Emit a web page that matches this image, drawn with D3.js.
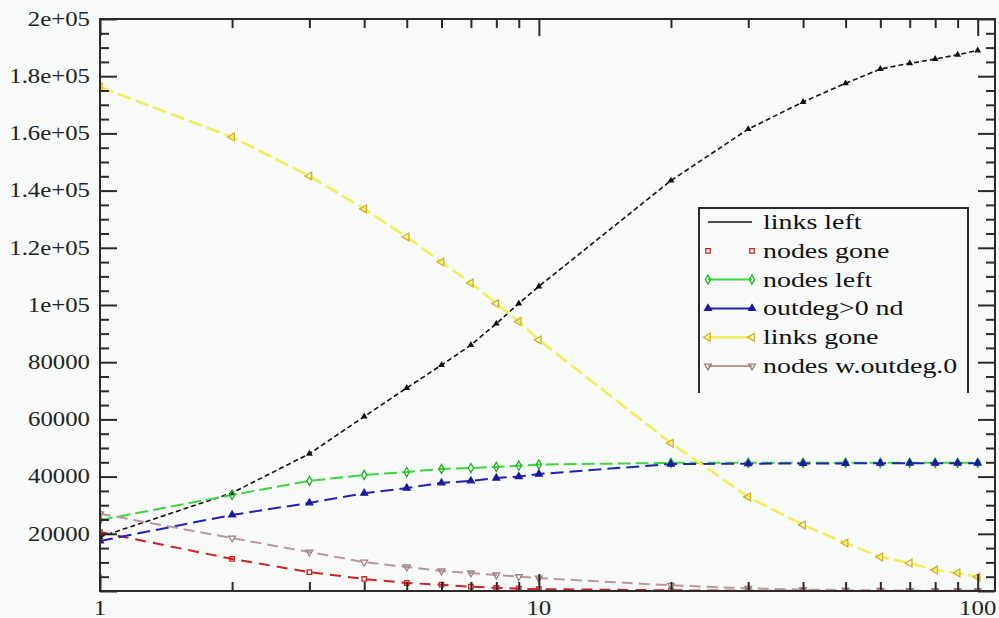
<!DOCTYPE html>
<html><head><meta charset="utf-8">
<script src="https://cdn.jsdelivr.net/npm/d3@7"></script>
<style>html,body{margin:0;padding:0;background:#f7faf8;}svg{display:block;}</style>
</head><body>
<svg id="chart" width="999" height="618"></svg>
<script>
// ---- data ----
const xs = [1,2,3,4,5,6,7,8,9,10,20,30,40,50,60,70,80,90,100];
const linksLeft  = [18900,34300,48000,61000,71000,79000,86000,93500,100500,106500,143500,161500,171000,177500,182500,184500,186000,187500,189000];
const nodesGone  = [20600,11200,6600,4200,2800,2200,1500,1100,800,650,250,100,50,30,20,10,10,5,5];
const nodesLeft  = [24800,33600,38500,40600,41600,42700,43000,43400,43800,44200,44800,44800,44800,44800,44800,44800,44800,44800,44800];
const outdegNd   = [17500,26600,30800,34200,36000,37800,38500,39500,40000,40900,44400,44500,44600,44600,44700,44700,44700,44700,44700];
const linksGone  = [176200,158700,145100,133600,123800,115000,107700,100500,94200,87800,51700,32900,23100,16800,11900,9800,7300,6300,4900];
const nodesW0    = [27000,18500,13600,10100,8400,7000,6300,5600,5000,4500,2000,900,500,300,200,150,100,80,60];
const seriesNames = ["links left","nodes gone","nodes left","outdeg>0 nd","links gone","nodes w.outdeg.0"];
const yTickValues = [20000,40000,60000,80000,100000,120000,140000,160000,180000,200000];
const yTickLabels = ["20000","40000","60000","80000","1e+05","1.2e+05","1.4e+05","1.6e+05","1.8e+05","2e+05"];
const xTickValues = [1,10,100];
const xTickLabels = ["1","10","100"];

const series = [
  {name:seriesNames[0], vals:linksLeft, line:"#111", mark:"#111", dash:"5,3", w:1.6, sym:d3.symbolTriangle, fill:true, size:9},
  {name:seriesNames[1], vals:nodesGone, line:"#cc2222", mark:"#cc2222", dash:"11,7", w:2, sym:d3.symbolSquare, fill:false, size:20},
  {name:seriesNames[2], vals:nodesLeft, line:"#3dd63d", mark:"#22b022", dash:"13,5", w:2, sym:d3.symbolDiamond, fill:false, size:24},
  {name:seriesNames[3], vals:outdegNd, line:"#2222b0", mark:"#1a1aa0", dash:"13,6", w:2, sym:d3.symbolTriangle, fill:true, size:20},
  {name:seriesNames[4], vals:linksGone, line:"#f2ee5a", mark:"#d4b020", dash:"14,5", w:2.6, sym:"tl", fill:false, size:26},
  {name:seriesNames[5], vals:nodesW0, line:"#b89898", mark:"#a08080", dash:"11,6", w:2, sym:"td", fill:false, size:20}
];

const W = 999, H = 618;
const L = 100, R = 995, T = 19, B = 591;
const x = d3.scaleLog().domain([1, 109.5]).range([L, R]);
const y = d3.scaleLinear().domain([0, 200000]).range([B, T]);

const svg = d3.select("#chart");
svg.append("rect").attr("width", W).attr("height", H).attr("fill", "#f7faf8");

svg.append("defs").append("clipPath").attr("id","clip")
  .append("rect").attr("x", L).attr("y", T).attr("width", R-L).attr("height", B-T);

const plot = svg.append("g").attr("clip-path","url(#clip)");

function symPath(s, size){
  if (s === "tl" || s === "td") return d3.symbol(d3.symbolTriangle, size)();
  return d3.symbol(s, size)();
}
function symRot(s){ return s === "tl" ? -90 : (s === "td" ? 180 : 0); }

const line = d3.line().x((d,i)=>x(xs[i])).y(d=>y(d));
series.forEach(s=>{
  plot.append("path").attr("d", line(s.vals)).attr("fill","none")
    .attr("stroke", s.line).attr("stroke-width", s.w).attr("stroke-dasharray", s.dash);
});
series.forEach(s=>{
  plot.selectAll(null).data(s.vals).enter().append("path")
    .attr("d", symPath(s.sym, s.size))
    .attr("transform",(d,i)=>`translate(${x(xs[i])},${y(d)}) rotate(${symRot(s.sym)})`)
    .attr("fill", s.fill ? s.mark : "none")
    .attr("stroke", s.mark).attr("stroke-width", 1.3);
});

// ---- axes / ticks ----
const axisColor = "#2a2a2a";
const xMajor = xTickValues;
const xMinor = [2,3,4,5,6,7,8,9,20,30,40,50,60,70,80,90];
const yMajor = d3.range(0, 200001, 20000);
const yMinor = d3.range(0, 200001, 5000).filter(v => v % 20000 !== 0);

function tickAxis(gen, scale, vals, size, tr){
  const g = svg.append("g").attr("transform", tr)
    .call(gen(scale).tickValues(vals).tickSize(size).tickFormat(""));
  g.select(".domain").remove();
  g.selectAll("line").attr("stroke", axisColor).attr("stroke-width", 2);
}
tickAxis(d3.axisBottom, x, xMajor, -17, `translate(0,${B})`);
tickAxis(d3.axisBottom, x, xMinor, -9, `translate(0,${B})`);
tickAxis(d3.axisTop, x, xMajor, -17, `translate(0,${T})`);
tickAxis(d3.axisTop, x, xMinor, -9, `translate(0,${T})`);
tickAxis(d3.axisLeft, y, yMajor, -17, `translate(${L},0)`);
tickAxis(d3.axisLeft, y, yMinor, -9, `translate(${L},0)`);
tickAxis(d3.axisRight, y, yMajor, -17, `translate(${R},0)`);
tickAxis(d3.axisRight, y, yMinor, -9, `translate(${R},0)`);

svg.append("rect").attr("x", L).attr("y", T).attr("width", R-L).attr("height", B-T)
  .attr("fill","none").attr("stroke", axisColor).attr("stroke-width", 2);

const font = "'Liberation Serif','Times New Roman',serif";
svg.selectAll(null).data(yTickValues).enter().append("text")
  .attr("transform", d=>`translate(90,${y(d)}) scale(1.24,1)`)
  .attr("dy","0.34em").attr("text-anchor","end")
  .attr("font-family", font).attr("font-size", 20).attr("fill","#222")
  .text((d,i)=>yTickLabels[i]);
svg.selectAll(null).data(xTickValues).enter().append("text")
  .attr("transform", d=>`translate(${x(d)},615) scale(1.24,1)`)
  .attr("text-anchor","middle")
  .attr("font-family", font).attr("font-size", 20).attr("fill","#222")
  .text((d,i)=>xTickLabels[i]);

// ---- legend ----
const lg = svg.append("g");
const lx0 = 699, ly0 = 208, lx1 = 968, ly1 = 393;
lg.append("path").attr("d", `M${lx0},${ly1}V${ly0}H${lx1}V${ly1}`)
  .attr("fill","none").attr("stroke", axisColor).attr("stroke-width", 2);
series.forEach((s,i)=>{
  const yy = 222 + i*28.8;
  if (i !== 1) {
    lg.append("line").attr("x1",708).attr("x2",752).attr("y1",yy).attr("y2",yy)
      .attr("stroke", s.line).attr("stroke-width", s.w);
  }
  if (i !== 0) {
    [708, 752].forEach(px=>{
      lg.append("path").attr("d", symPath(s.sym, s.size))
        .attr("transform", `translate(${px},${yy}) rotate(${symRot(s.sym)})`)
        .attr("fill", s.fill ? s.mark : "none").attr("stroke", s.mark).attr("stroke-width",1.3);
    });
  }
  lg.append("text").attr("transform", `translate(763,${yy}) scale(1.33,1)`)
    .attr("dy","0.33em").attr("font-family", font).attr("font-size", 21).attr("fill","#111")
    .text(s.name);
});
</script>
</body></html>
